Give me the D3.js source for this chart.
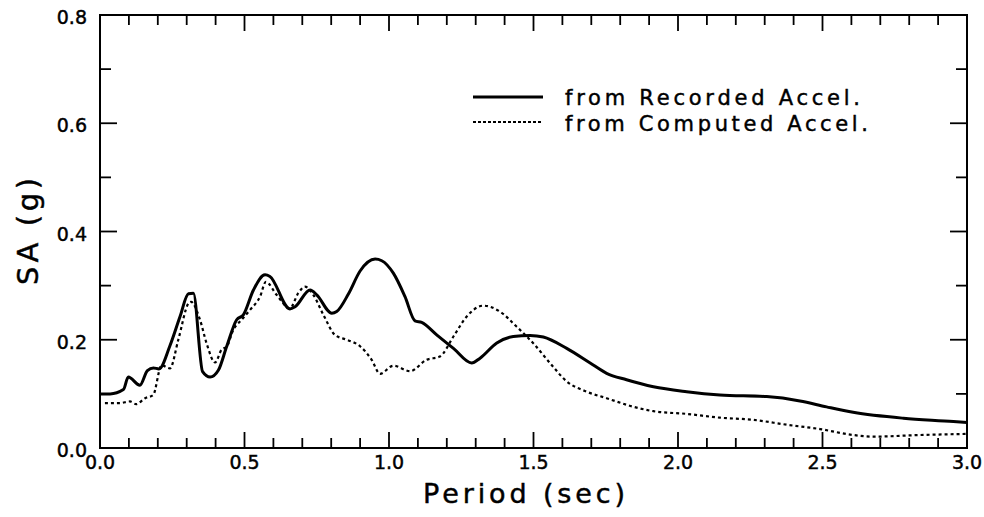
<!DOCTYPE html>
<html>
<head>
<meta charset="utf-8">
<script src="https://cdn.jsdelivr.net/npm/d3@7"></script>
<style>
  body { margin: 0; background: #fff; }
  text { font-family: "DejaVu Sans", sans-serif; fill: #000; stroke: #000; stroke-width: 0.45px; }
</style>
</head>
<body>
<svg id="chart" width="984" height="517" viewBox="0 0 984 517"></svg>
<script>
// periods (sec) and spectral accel (g)
const recT = [0, 0.035, 0.081, 0.098, 0.138, 0.164, 0.185, 0.204, 0.242, 0.277, 0.306, 0.323, 0.355, 0.381, 0.41, 0.438,
  0.473, 0.496, 0.531, 0.571, 0.588, 0.657, 0.675, 0.727, 0.75, 0.802, 0.819, 0.86, 0.9, 0.952, 0.975, 1.015, 1.055,
  1.09, 1.113, 1.165, 1.223, 1.286, 1.315, 1.373, 1.43, 1.488, 1.534, 1.615, 1.696, 1.753, 1.822, 1.915, 2.03,
  2.145, 2.307, 2.422, 2.514, 2.606, 2.78, 2.953, 3.0]
const recSA = [0.1, 0.1, 0.108, 0.131, 0.116, 0.143, 0.148, 0.146, 0.189, 0.243, 0.285, 0.286, 0.141, 0.131, 0.144, 0.187,
  0.237, 0.246, 0.292, 0.32, 0.317, 0.257, 0.261, 0.292, 0.283, 0.249, 0.252, 0.285, 0.327, 0.349, 0.346, 0.323, 0.28,
  0.235, 0.232, 0.209, 0.184, 0.157, 0.166, 0.194, 0.206, 0.208, 0.205, 0.184, 0.157, 0.138, 0.126, 0.113, 0.104,
  0.098, 0.095, 0.087, 0.076, 0.066, 0.055, 0.049, 0.047]

const compT = [0.017, 0.069, 0.104, 0.125, 0.156, 0.184, 0.213, 0.242, 0.271, 0.306, 0.315, 0.346, 0.369, 0.398, 0.421,
  0.438, 0.461, 0.49, 0.519, 0.554, 0.574, 0.611, 0.657, 0.686, 0.709, 0.738, 0.773, 0.813, 0.854, 0.9, 0.94, 0.969,
  1.015, 1.073, 1.13, 1.176, 1.223, 1.269, 1.326, 1.384, 1.442, 1.5, 1.557, 1.615, 1.684, 1.753, 1.84, 1.915, 2.03,
  2.145, 2.261, 2.376, 2.491, 2.606, 2.675, 2.837, 3.0]
const compSA = [0.083, 0.083, 0.086, 0.081, 0.092, 0.098, 0.153, 0.147, 0.2, 0.267, 0.27, 0.237, 0.193, 0.158, 0.182,
  0.187, 0.218, 0.237, 0.255, 0.28, 0.307, 0.283, 0.258, 0.286, 0.298, 0.283, 0.246, 0.209, 0.2, 0.188, 0.163, 0.137,
  0.152, 0.142, 0.163, 0.169, 0.206, 0.243, 0.263, 0.252, 0.224, 0.193, 0.157, 0.123, 0.104, 0.092, 0.077, 0.068, 0.063,
  0.056, 0.052, 0.043, 0.035, 0.024, 0.021, 0.024, 0.026]

const xTickLabels = ["0.0", "0.5", "1.0", "1.5", "2.0", "2.5", "3.0"]
const yTickLabels = ["0.0", "0.2", "0.4", "0.6", "0.8"]
const legendLabels = ["from  Recorded  Accel.", "from  Computed  Accel."]

const svg = d3.select("#chart")
const left = 100, top_ = 15, right = 967, bottom = 448

const x = d3.scaleLinear().domain([0, 3]).range([left, right])
const y = d3.scaleLinear().domain([0, 0.8]).range([bottom, top_])

const tickVX = d3.range(0, 31).map(d => d / 10)
const tickVY = d3.range(0, 9).map(d => d / 10)

svg.append("rect")
    .attr("x", left).attr("y", top_)
    .attr("width", right - left).attr("height", bottom - top_)
    .attr("fill", "none").attr("stroke", "#000").attr("stroke-width", 2)

// ticks, all four sides (major every 0.5 s / 0.2 g)
const tg = svg.append("g").attr("class", "ticks")
tg.selectAll(".tb").data(tickVX).enter().append("line").attr("class", "tb")
    .attr("x1", d => x(d)).attr("x2", d => x(d))
    .attr("y1", bottom).attr("y2", (d, i) => i % 5 === 0 ? bottom - 16 : bottom - 10)
tg.selectAll(".tt").data(tickVX).enter().append("line").attr("class", "tt")
    .attr("x1", d => x(d)).attr("x2", d => x(d))
    .attr("y1", top_).attr("y2", (d, i) => i % 5 === 0 ? top_ + 16 : top_ + 10)
tg.selectAll(".tl").data(tickVY).enter().append("line").attr("class", "tl")
    .attr("y1", d => y(d)).attr("y2", d => y(d))
    .attr("x1", left).attr("x2", (d, i) => i % 2 === 0 ? left + 17 : left + 11)
tg.selectAll(".tr").data(tickVY).enter().append("line").attr("class", "tr")
    .attr("y1", d => y(d)).attr("y2", d => y(d))
    .attr("x1", right).attr("x2", (d, i) => i % 2 === 0 ? right - 17 : right - 11)
tg.selectAll("line").attr("stroke", "#000").attr("stroke-width", 1.8)

// tick labels
svg.append("g").selectAll("text")
    .data(xTickLabels)
    .enter().append("text")
    .attr("x", d => x(+d)).attr("y", 469)
    .attr("text-anchor", "middle")
    .attr("font-size", 19)
    .text(d => d)

svg.append("g").selectAll("text")
    .data(yTickLabels)
    .enter().append("text")
    .attr("x", 87).attr("y", d => y(+d) + 9)
    .attr("text-anchor", "end")
    .attr("font-size", 19)
    .text(d => d)

// axis titles
svg.append("text")
    .attr("x", 423).attr("y", 503)
    .attr("font-size", 27)
    .attr("textLength", 202).attr("lengthAdjust", "spacing")
    .text("Period  (sec)")

svg.append("text")
    .attr("transform", "translate(38,285) rotate(-90)")
    .attr("font-size", 29)
    .attr("textLength", 107).attr("lengthAdjust", "spacing")
    .text("SA  (g)")

// curves
const line = d3.line().x(d => x(d[0])).y(d => y(d[1])).curve(d3.curveMonotoneX)

svg.append("path")
    .datum(recT.map((t, i) => [t, recSA[i]]))
    .attr("d", line)
    .attr("fill", "none").attr("stroke", "#000").attr("stroke-width", 3)
    .attr("stroke-linejoin", "round")

svg.append("path")
    .datum(compT.map((t, i) => [t, compSA[i]]))
    .attr("d", line)
    .attr("fill", "none").attr("stroke", "#000").attr("stroke-width", 2.2)
    .attr("stroke-dasharray", "3,3")

// legend
const leg = svg.append("g")
leg.append("line").attr("x1", 473).attr("x2", 543).attr("y1", 97).attr("y2", 97)
    .attr("stroke", "#000").attr("stroke-width", 3)
leg.append("line").attr("x1", 473).attr("x2", 543).attr("y1", 122).attr("y2", 122)
    .attr("stroke", "#000").attr("stroke-width", 2.2).attr("stroke-dasharray", "3,2")
leg.selectAll("text")
    .data(legendLabels)
    .enter().append("text")
    .attr("x", 565).attr("y", (d, i) => 105 + i * 26)
    .attr("font-size", 21)
    .attr("textLength", (d, i) => i === 0 ? 295 : 303).attr("lengthAdjust", "spacing")
    .text(d => d)
</script>
</body>
</html>
